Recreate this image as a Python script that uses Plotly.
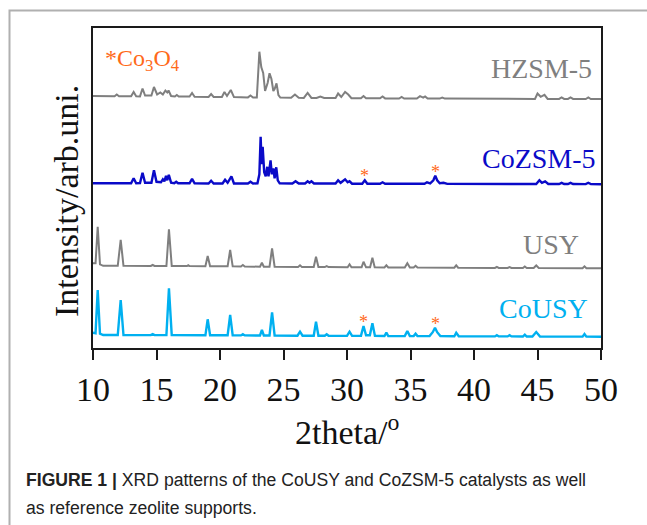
import plotly.graph_objects as go

# ---------------------------------------------------------------------------
# XRD patterns (2theta in degrees, intensity in arbitrary units above the
# stacking baseline of each pattern)
# ---------------------------------------------------------------------------
hzsm5 = [
    (10.0, 3.0), (11.7, 2.8), (11.87, 4.5), (12.05, 2.8), (13.0, 2.7), (13.2, 7.0),
    (13.4, 2.7), (13.7, 2.6), (13.9, 10.5), (14.1, 3.5), (14.6, 3.5), (14.8, 12.0),
    (15.05, 4.5), (15.3, 6.5), (15.5, 4.5), (15.7, 8.5), (15.85, 6.5), (15.95, 8.5),
    (16.15, 3.0), (16.45, 2.5), (16.6, 4.0), (16.75, 2.5), (17.6, 2.4), (17.8, 6.0),
    (18.0, 2.3), (19.1, 2.1), (19.3, 5.0), (19.5, 2.0), (20.15, 2.0), (20.35, 7.0),
    (20.55, 3.0), (20.85, 9.0), (21.1, 1.9), (22.2, 1.6), (22.4, 3.5), (22.6, 1.5),
    (22.9, 1.5), (23.1, 47.3), (23.25, 32.0), (23.4, 26.0), (23.55, 8.0), (23.75, 16.0),
    (23.9, 25.7), (24.05, 20.0), (24.2, 8.0), (24.3, 10.0), (24.45, 15.7), (24.6, 4.0),
    (24.75, 1.4), (25.6, 1.2), (25.9, 4.5), (26.2, 1.2), (26.6, 1.1), (26.9, 6.0),
    (27.2, 1.1), (27.6, 1.0), (27.9, 2.5), (28.2, 1.0), (29.1, 0.9), (29.3, 5.5),
    (29.55, 2.0), (29.85, 7.0), (30.1, 4.5), (30.35, 0.8), (31.1, 0.8), (31.3, 3.0),
    (31.5, 0.7), (32.6, 0.7), (32.8, 2.5), (33.0, 0.6), (34.1, 0.5), (34.3, 2.0),
    (34.5, 0.5), (35.5, 0.5), (35.75, 2.8), (36.0, 1.4), (36.15, 2.6), (36.35, 0.5),
    (37.3, 0.4), (37.5, 1.5), (37.7, 0.4), (44.8, 0.1), (45.0, 5.5), (45.25, 2.2),
    (45.55, 4.2), (45.8, 0.1), (46.7, 0.1), (46.9, 1.6), (47.1, 0.1), (47.4, 0.1),
    (47.6, 1.6), (47.8, 0.1), (48.8, 0.0), (49.0, 1.5), (49.2, 0.0), (50.0, 0.0),
]

cozsm5 = [
    (10.0, 1.0), (13.0, 1.0), (13.2, 6.0), (13.4, 1.0), (13.7, 1.2), (13.9, 11.5),
    (14.1, 1.5), (14.6, 1.5), (14.8, 14.0), (15.0, 2.5), (15.35, 2.0), (15.5, 5.0),
    (15.62, 3.0), (15.75, 8.5), (15.85, 4.0), (15.97, 9.5), (16.15, 1.5), (16.4, 1.0),
    (16.55, 2.5), (16.7, 1.0), (17.6, 1.0), (17.8, 5.5), (18.0, 1.0), (19.1, 0.8),
    (19.3, 3.5), (19.5, 0.8), (20.2, 0.8), (20.4, 4.5), (20.6, 1.5), (20.9, 8.0),
    (21.1, 0.8), (22.2, 0.8), (22.4, 2.5), (22.6, 0.8), (22.95, 1.0), (23.1, 10.0),
    (23.2, 47.6), (23.28, 20.0), (23.36, 37.6), (23.48, 12.0), (23.6, 8.0), (23.72, 17.5),
    (23.82, 8.0), (23.98, 24.0), (24.08, 10.0), (24.2, 16.0), (24.3, 6.0), (24.43, 17.0),
    (24.55, 4.0), (24.7, 1.0), (25.7, 0.8), (25.95, 3.0), (26.2, 0.8), (26.7, 0.8),
    (26.9, 3.0), (27.05, 1.5), (27.2, 3.0), (27.4, 0.8), (29.1, 0.8), (29.3, 4.0),
    (29.5, 1.5), (29.85, 5.0), (30.05, 2.0), (30.2, 3.0), (30.4, 0.6), (31.2, 0.6),
    (31.4, 4.0), (31.6, 0.6), (32.6, 0.5), (32.8, 2.0), (33.0, 0.5), (34.5, 0.5),
    (34.7, 1.2), (34.9, 0.5), (36.1, 0.5), (36.3, 2.0), (36.55, 1.0), (36.8, 4.0),
    (36.95, 8.5), (37.1, 4.0), (37.3, 1.0), (37.6, 1.5), (37.9, 0.4), (44.9, 0.3),
    (45.15, 4.0), (45.35, 1.5), (45.6, 3.0), (45.85, 0.3), (46.7, 0.3), (46.9, 1.5),
    (47.1, 0.3), (47.4, 0.3), (47.6, 1.5), (47.8, 0.3), (48.8, 0.2), (49.0, 1.5),
    (49.2, 0.2), (50.0, 0.0),
]

usy = [
    (10.0, 5.0), (10.2, 5.0), (10.37, 41.6), (10.55, 4.0), (10.8, 2.5), (11.95, 2.5),
    (12.18, 28.5), (12.4, 2.5), (14.55, 2.3), (14.7, 3.3), (14.85, 2.3), (15.78, 2.3),
    (15.98, 39.0), (16.2, 2.3), (17.4, 2.2), (17.5, 3.0), (17.6, 2.2), (18.85, 2.0),
    (19.03, 12.3), (19.22, 2.0), (20.6, 2.0), (20.8, 18.3), (21.0, 2.0), (21.65, 1.8),
    (21.8, 3.3), (21.95, 1.8), (23.15, 1.6), (23.3, 5.6), (23.45, 1.6), (23.9, 1.6),
    (24.1, 20.0), (24.3, 1.6), (26.15, 1.4), (26.3, 3.0), (26.45, 1.4), (27.38, 1.3),
    (27.56, 11.6), (27.75, 1.3), (28.25, 1.2), (28.4, 2.2), (28.55, 1.2), (30.05, 1.0),
    (30.2, 4.0), (30.35, 1.0), (31.15, 1.0), (31.3, 6.6), (31.5, 1.0), (31.82, 1.0),
    (32.0, 10.6), (32.18, 1.0), (32.95, 0.9), (33.1, 3.0), (33.25, 0.9), (34.55, 0.8),
    (34.75, 5.0), (34.95, 0.8), (35.25, 0.8), (35.4, 2.5), (35.55, 0.8), (38.45, 0.6),
    (38.6, 3.0), (38.75, 0.6), (41.65, 0.4), (41.8, 1.4), (41.95, 0.4), (42.65, 0.4),
    (42.8, 1.3), (42.95, 0.4), (43.85, 0.3), (44.0, 1.8), (44.15, 0.3), (44.7, 0.3),
    (44.9, 2.8), (45.1, 0.3), (48.55, 0.1), (48.7, 2.0), (48.85, 0.1), (50.0, 0.0),
]

cousy = [
    (10.0, 4.0), (10.2, 3.5), (10.37, 46.7), (10.55, 3.0), (10.8, 1.7), (11.95, 1.7),
    (12.18, 36.7), (12.4, 1.7), (14.55, 1.6), (14.7, 2.6), (14.85, 1.6), (15.78, 1.6),
    (15.98, 48.4), (16.2, 1.6), (18.85, 1.4), (19.03, 17.4), (19.22, 1.4), (20.6, 1.4),
    (20.8, 21.7), (21.0, 1.4), (21.65, 1.3), (21.8, 2.5), (21.95, 1.3), (23.15, 1.2),
    (23.3, 6.7), (23.45, 1.2), (23.9, 1.2), (24.1, 24.4), (24.3, 1.2), (26.1, 1.0),
    (26.3, 5.0), (26.5, 1.0), (27.38, 1.0), (27.56, 15.0), (27.75, 1.0), (28.25, 0.9),
    (28.4, 2.4), (28.55, 0.9), (30.0, 0.8), (30.2, 5.0), (30.4, 0.8), (31.1, 0.8),
    (31.3, 10.7), (31.5, 1.5), (31.8, 1.5), (32.0, 13.4), (32.2, 0.8), (32.95, 0.7),
    (33.1, 4.0), (33.25, 0.7), (34.55, 0.6), (34.75, 5.7), (34.95, 0.6), (35.25, 0.6),
    (35.4, 3.0), (35.55, 0.6), (36.5, 0.6), (36.75, 4.5), (36.93, 9.0), (37.1, 4.5),
    (37.35, 0.6), (38.45, 0.5), (38.6, 4.0), (38.8, 0.5), (41.65, 0.3), (41.8, 1.5),
    (41.95, 0.3), (42.65, 0.3), (42.8, 1.5), (42.95, 0.3), (43.85, 0.2), (44.0, 2.0),
    (44.15, 0.2), (44.6, 0.2), (44.9, 4.7), (45.2, 0.2), (48.55, 0.1), (48.7, 2.7),
    (48.85, 0.1), (50.0, 0.0),
]

# Co3O4 reflections marked with an asterisk on the cobalt-loaded samples
co3o4_peaks = [31.3, 36.9]

x_ticks = [10, 15, 20, 25, 30, 35, 40, 45, 50]

# ---------------------------------------------------------------------------
# Layout constants
# ---------------------------------------------------------------------------
W, H = 647, 525
PL, PR, PT, PB = 93, 601, 28, 348          # plot box in pixels
Y_SPAN = PB - PT

SERIF = "Liberation Serif, Times New Roman, serif"
SANS = "Liberation Sans, Arial, Helvetica, sans-serif"
ORANGE = "#FF6A1A"
GRAY = "#7F7F7F"
BLUE = "#0A0AC8"
LIGHT_BLUE = "#00B0F0"

# name, pattern, vertical stacking offset, colour, line width, label pos (px), Co3O4 marks
patterns = [
    ("HZSM-5", hzsm5, 249.0, GRAY, 2.0, (594, 68.5), False),
    ("CoZSM-5", cozsm5, 163.7, BLUE, 2.4, (598, 158), True),
    ("USY", usy, 79.7, GRAY, 2.0, (581, 244), False),
    ("CoUSY", cousy, 11.3, LIGHT_BLUE, 2.4, (590, 308), True),
]


def paper_x(px):
    return (px - PL) / (PR - PL)


def paper_y(py):
    return (PB - py) / Y_SPAN


fig = go.Figure()
annotations = []

for name, data, offset, color, lw, (lx, ly), marked in patterns:
    tt = [p[0] for p in data]
    inten = [p[1] + offset for p in data]
    fig.add_trace(go.Scatter(
        x=tt, y=inten, mode="lines", name=name,
        line=dict(color=color, width=lw, shape="linear"),
        hoverinfo="skip", showlegend=False,
    ))
    annotations.append(dict(
        text=name, xref="paper", yref="paper", x=paper_x(lx), y=paper_y(ly),
        xanchor="right", yanchor="middle", showarrow=False,
        font=dict(family=SERIF, size=28, color=color),
    ))
    if marked:
        for pk in co3o4_peaks:
            # strongest listed point of the pattern within 0.2 deg of the reflection
            top = max((p for p in data if abs(p[0] - pk) <= 0.2), key=lambda p: p[1])
            annotations.append(dict(
                text="*", xref="x", yref="y", x=top[0], y=top[1] + offset + 4,
                xanchor="center", yanchor="middle", showarrow=False,
                font=dict(family=SERIF, size=18, color=ORANGE),
            ))

# phase key in the upper-left corner
annotations.append(dict(
    text="*Co<sub>3</sub>O<sub>4</sub>", xref="paper", yref="paper",
    x=paper_x(103), y=paper_y(60), xanchor="left", yanchor="middle",
    showarrow=False, font=dict(family=SERIF, size=24, color=ORANGE),
))

# y-axis title
annotations.append(dict(
    text="Intensity/arb.uni.", xref="paper", yref="paper",
    x=paper_x(66), y=paper_y(201), xanchor="center", yanchor="middle",
    textangle=-90, showarrow=False, font=dict(family=SERIF, size=34, color="#111111"),
))

# x-axis title
annotations.append(dict(
    text="2theta/<sup>o</sup>", xref="paper", yref="paper",
    x=paper_x(347), y=paper_y(430), xanchor="center", yanchor="middle",
    showarrow=False, font=dict(family=SERIF, size=34, color="#111111"),
))

# figure caption
annotations.append(dict(
    text="<b>FIGURE 1 |</b> XRD patterns of the CoUSY and CoZSM-5 catalysts as well",
    xref="paper", yref="paper", x=paper_x(24), y=paper_y(480),
    xanchor="left", yanchor="middle", showarrow=False,
    font=dict(family=SANS, size=17.6, color="#222222"),
))
annotations.append(dict(
    text="as reference zeolite supports.",
    xref="paper", yref="paper", x=paper_x(24), y=paper_y(508),
    xanchor="left", yanchor="middle", showarrow=False,
    font=dict(family=SANS, size=17.6, color="#222222"),
))

# panel frame (left and top edges)
frame = dict(
    type="path", xref="paper", yref="paper",
    path=(f"M {paper_x(9.5)} {paper_y(H + 5)} L {paper_x(9.5)} {paper_y(10.5)} "
          f"L {paper_x(W + 5)} {paper_y(10.5)}"),
    line=dict(color="#B0B0B0", width=2),
)

fig.update_layout(
    width=W, height=H,
    margin=dict(l=PL, r=W - PR, t=PT, b=H - PB, pad=0),
    paper_bgcolor="white", plot_bgcolor="white",
    annotations=annotations, shapes=[frame],
    xaxis=dict(
        range=[10, 50], tickvals=x_ticks, ticktext=[str(t) for t in x_ticks],
        ticks="outside", ticklen=10, tickwidth=1.5, tickcolor="#1a1a1a",
        showline=True, linecolor="#1a1a1a", linewidth=1.5, mirror=True,
        showgrid=False, zeroline=False,
        tickfont=dict(family=SERIF, size=34, color="#111111"),
    ),
    yaxis=dict(
        range=[0, Y_SPAN], showticklabels=False, ticks="",
        showline=True, linecolor="#1a1a1a", linewidth=1.5, mirror=True,
        showgrid=False, zeroline=False,
    ),
)

fig.write_html("out.html")
